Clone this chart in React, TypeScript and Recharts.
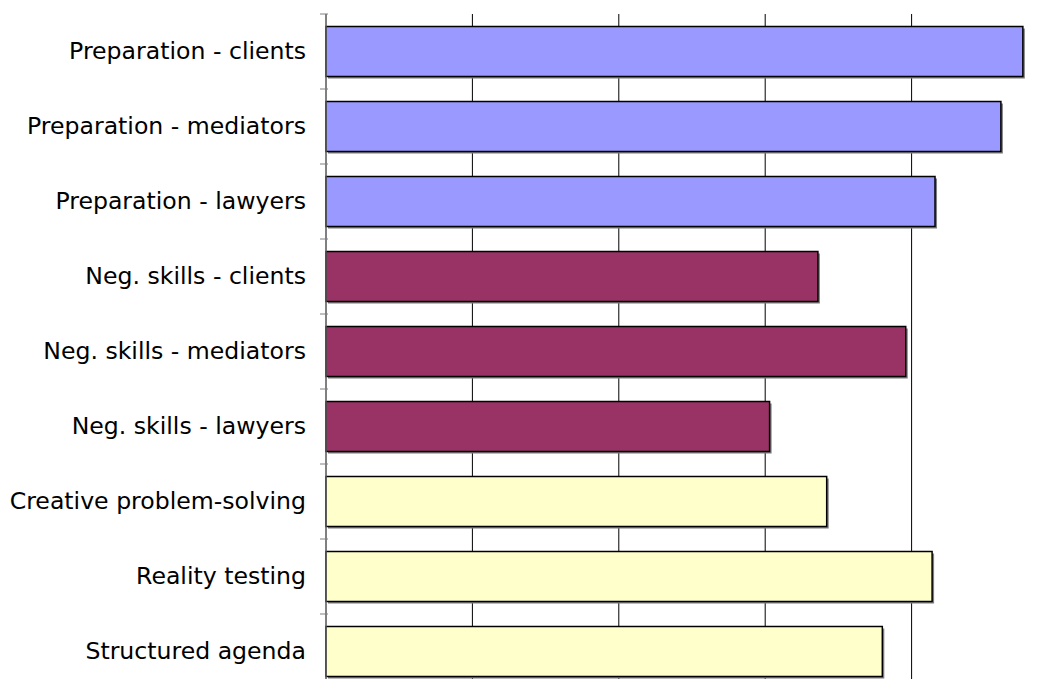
import React from "react";
import { BarChart, Bar, XAxis, YAxis, CartesianGrid, Cell, Rectangle } from "recharts";

const categories = [
  "Preparation - clients",
  "Preparation - mediators",
  "Preparation - lawyers",
  "Neg. skills - clients",
  "Neg. skills - mediators",
  "Neg. skills - lawyers",
  "Creative problem-solving",
  "Reality testing",
  "Structured agenda",
];
const values = [4.76, 4.61, 4.16, 3.36, 3.96, 3.03, 3.42, 4.14, 3.8];
const groups = ["prep", "prep", "prep", "neg", "neg", "neg", "other", "other", "other"];
const xTicks = [0, 1, 2, 3, 4, 5];

const palette: Record<string, string> = {
  prep: "#9999FF",
  neg: "#993366",
  other: "#FFFFCC",
};

const WIDTH = 1100;
const HEIGHT = 700;
const MARGIN = { top: 14, right: 42, bottom: 11, left: 0 };
const BAND = (HEIGHT - MARGIN.top - MARGIN.bottom) / categories.length;

const data = categories.map((name, i) => ({ name, value: values[i], group: groups[i] }));

function ShadowBar(props: any) {
  const { x, y, width, height, fill } = props;
  return (
    <g>
      <rect x={x + 2} y={y + 2} width={width} height={height} fill="#7f7f7f" />
      <Rectangle x={x} y={y} width={width} height={height} fill={fill} stroke="#000" strokeWidth={1.5} />
    </g>
  );
}

function CategoryTick(props: any) {
  const { x, y, payload } = props;
  return (
    <g>
      <line x1={x + 2} x2={x + 10} y1={y - BAND / 2} y2={y - BAND / 2} stroke="#808080" />
      <text
        x={x - 12}
        y={y}
        dy="0.32em"
        textAnchor="end"
        fill="#000"
        fontFamily="DejaVu Sans"
        fontSize={23.6}
      >
        {payload.value}
      </text>
    </g>
  );
}

export default function App() {
  return (
    <div
      style={{
        position: "absolute",
        left: 0,
        top: 0,
        width: 1045,
        height: 679,
        overflow: "hidden",
        background: "#fff",
      }}
    >
      <BarChart
        width={WIDTH}
        height={HEIGHT}
        data={data}
        layout="vertical"
        margin={MARGIN}
        barCategoryGap="16.7%"
      >
        <CartesianGrid horizontal={false} stroke="#000" strokeOpacity={1} />
        <XAxis type="number" domain={[0, 5]} ticks={xTicks} hide />
        <YAxis
          type="category"
          dataKey="name"
          width={326}
          axisLine={{ stroke: "#808080" }}
          tickLine={false}
          tick={<CategoryTick />}
          interval={0}
        />
        <Bar dataKey="value" isAnimationActive={false} shape={<ShadowBar />}>
          {data.map((d, i) => (
            <Cell key={i} fill={palette[d.group]} />
          ))}
        </Bar>
      </BarChart>
    </div>
  );
}
